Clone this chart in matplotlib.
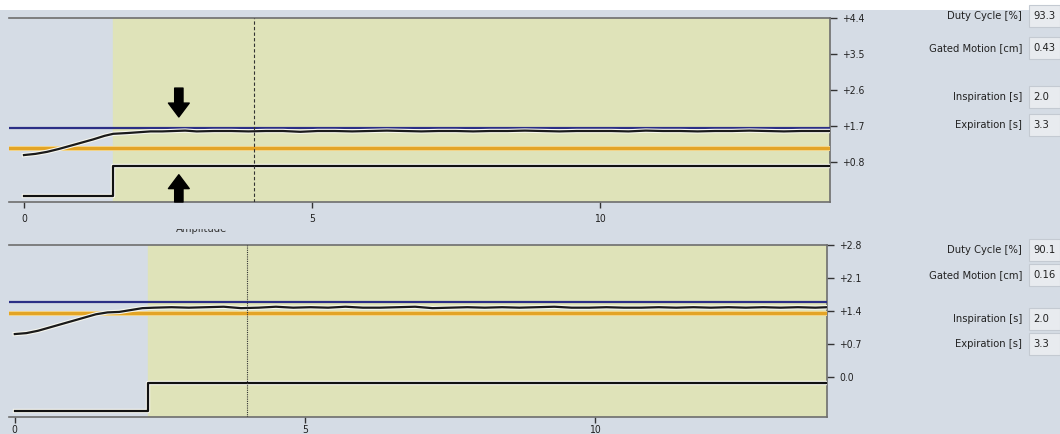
import matplotlib.pyplot as plt
import matplotlib.patheffects as pe
from matplotlib.patches import Rectangle

# breathing trace, upper panel (time in s, amplitude in cm)
t_top = [0.0, 0.2, 0.4, 0.6, 0.8, 1.0, 1.2, 1.4, 1.55, 1.8, 2.0, 2.2, 2.4, 2.6, 2.8, 3.0,
         3.3, 3.6, 3.9, 4.2, 4.5, 4.8, 5.1, 5.4, 5.7, 6.0, 6.3, 6.6, 6.9, 7.2, 7.5, 7.8,
         8.1, 8.4, 8.7, 9.0, 9.3, 9.6, 9.9, 10.2, 10.5, 10.8, 11.1, 11.4, 11.7, 12.0,
         12.3, 12.6, 12.9, 13.2, 13.5, 13.8, 14.0]
a_top = [0.97, 1.00, 1.05, 1.12, 1.20, 1.28, 1.36, 1.45, 1.50, 1.52, 1.54, 1.56, 1.56, 1.57, 1.58, 1.56,
         1.57, 1.57, 1.56, 1.57, 1.57, 1.55, 1.57, 1.57, 1.56, 1.57, 1.58, 1.57, 1.56, 1.57, 1.57, 1.56,
         1.57, 1.57, 1.58, 1.57, 1.56, 1.57, 1.57, 1.57, 1.56, 1.58, 1.57, 1.57, 1.56, 1.57,
         1.57, 1.58, 1.57, 1.56, 1.57, 1.57, 1.57]

# breathing trace, lower panel
t_bot = [0.0, 0.2, 0.4, 0.6, 0.8, 1.0, 1.2, 1.4, 1.6, 1.8, 2.0, 2.2, 2.4, 2.7, 3.0,
         3.3, 3.6, 3.9, 4.2, 4.5, 4.8, 5.1, 5.4, 5.7, 6.0, 6.3, 6.6, 6.9, 7.2, 7.5, 7.8,
         8.1, 8.4, 8.7, 9.0, 9.3, 9.6, 9.9, 10.2, 10.5, 10.8, 11.1, 11.4, 11.7, 12.0,
         12.3, 12.6, 12.9, 13.2, 13.5, 13.8, 14.0]
a_bot = [0.91, 0.93, 0.98, 1.05, 1.12, 1.19, 1.26, 1.33, 1.37, 1.38, 1.42, 1.46, 1.47, 1.48, 1.47,
         1.48, 1.49, 1.46, 1.47, 1.49, 1.47, 1.48, 1.47, 1.49, 1.47, 1.47, 1.48, 1.49, 1.46, 1.47, 1.48,
         1.47, 1.48, 1.47, 1.48, 1.49, 1.47, 1.47, 1.48, 1.47, 1.47, 1.48, 1.47, 1.48, 1.47,
         1.48, 1.47, 1.48, 1.47, 1.48, 1.47, 1.48]

# gate window: start of beam-on, levels of the gate trace (low, high)
gate_start = [1.55, 2.3]
gate_low = [-0.05, -0.72]
gate_high = [0.70, -0.13]
upper_thr = [1.65, 1.59]
lower_thr = [1.15, 1.36]
cursor_t = [4.0, 4.0]
ylims = [(-0.2, 4.4), (-0.85, 2.8)]
yticks = [[0.8, 1.7, 2.6, 3.5, 4.4], [0.0, 0.7, 1.4, 2.1, 2.8]]
xlims = [(-0.26, 14.0), (-0.1, 14.0)]
xticks = [0, 5, 10]

stats_labels = ['Duty Cycle [%]', 'Gated Motion [cm]', 'Inspiration [s]', 'Expiration [s]']
stats_values = [['93.3', '0.43', '2.0', '3.3'], ['90.1', '0.16', '2.0', '3.3']]
stats_rows = [[16, 48, 97, 125], [250, 275, 319, 344]]

BG = '#d5dce5'
GATE = '#dfe3b9'
SPINE = '#6e6e6e'
W, H = 1060, 434
plt.rcParams['font.family'] = ['DejaVu Sans']
plt.rcParams['font.stretch'] = 'condensed'
plt.rcParams['font.size'] = 7.5

fig = plt.figure(figsize=(W / 100, H / 100), dpi=100, facecolor=BG)
fig.patches.append(Rectangle((0, 1 - 10 / H), 1, 10 / H, transform=fig.transFigure,
                             facecolor='white', edgecolor='none'))

boxes = [(9, 17.5, 830, 202), (9, 245, 827, 417)]
axes = []
for i, (x0, y0, x1, y1) in enumerate(boxes):
    ax = fig.add_axes([x0 / W, 1 - y1 / H, (x1 - x0) / W, (y1 - y0) / H])
    ax.set_facecolor(BG)
    ax.set_xlim(*xlims[i])
    ax.set_ylim(*ylims[i])
    ax.axvspan(gate_start[i], xlims[i][1], color=GATE, zorder=0)

    halo = [pe.withStroke(linewidth=3.2, foreground='#f6f6ee')]
    ax.axhline(upper_thr[i], color='#2b2f86', lw=1.6, zorder=3)
    ax.axhline(lower_thr[i], color='#e3a426', lw=2.2, zorder=3,
               path_effects=[pe.withStroke(linewidth=3.6, foreground='#f3d58a')])
    t, a = (t_top, a_top) if i == 0 else (t_bot, a_bot)
    ax.plot(t, a, color='#1a1a1a', lw=1.6, zorder=4, path_effects=halo)
    ax.plot([0, gate_start[i], xlims[i][1]], [gate_low[i], gate_high[i], gate_high[i]],
            color='#111111', lw=1.6, drawstyle='steps-post', zorder=4, path_effects=halo)
    ax.axvline(cursor_t[i], color='#333333', lw=0.8,
               ls=(0, (3, 2)) if i == 0 else (0, (1, 1)), zorder=5)

    ax.spines['left'].set_visible(False)
    for side in ['top', 'bottom', 'right']:
        ax.spines[side].set_color(SPINE)
        ax.spines[side].set_linewidth(1.2)
    ax.yaxis.tick_right()
    ax.set_yticks(yticks[i])
    ax.set_yticklabels(['%+.1f' % v if v != 0 else '0.0' for v in yticks[i]])
    ax.set_xticks(xticks)
    ax.tick_params(axis='y', length=5, width=1, color='#333333', pad=4, labelcolor='#222222')
    ax.tick_params(axis='x', length=4, width=1, color='#333333', pad=5 if i == 0 else 2,
                   labelcolor='#222222')
    axes.append(ax)

    for lab, val, row in zip(stats_labels, stats_values[i], stats_rows[i]):
        fig.patches.append(Rectangle((1029 / W, 1 - (row + 11) / H), 31 / W, 22 / H,
                                     transform=fig.transFigure, facecolor='#e8ebef',
                                     edgecolor='#c4cad2', lw=0.8))
        fig.text(1022 / W, 1 - row / H, lab, ha='right', va='center', color='#222222', fontsize=8)
        fig.text(1033 / W, 1 - row / H, val, ha='left', va='center', color='#222222', fontsize=8)

# gate markers on the upper trace
ax = axes[0]
arrow = dict(facecolor='black', edgecolor='black', width=6, headwidth=15, headlength=10, shrink=0)
ax.annotate('', xy=(2.69, 1.92), xytext=(2.69, 2.64), arrowprops=arrow)
ax.annotate('', xy=(2.69, 0.48), xytext=(2.69, -0.2), arrowprops=arrow, annotation_clip=False)

# axis title of the lower panel, its upper half hidden by a background strip
fig.text(202 / W, 1 - 229 / H, 'Amplitude', ha='center', va='center', fontsize=8,
         color='#333333', zorder=3)
fig.patches.append(Rectangle((150 / W, 1 - 229 / H), 110 / W, 8 / H, transform=fig.transFigure,
                             facecolor=BG, edgecolor='none', zorder=4))

fig.savefig('out.png', dpi=100, facecolor=BG)
